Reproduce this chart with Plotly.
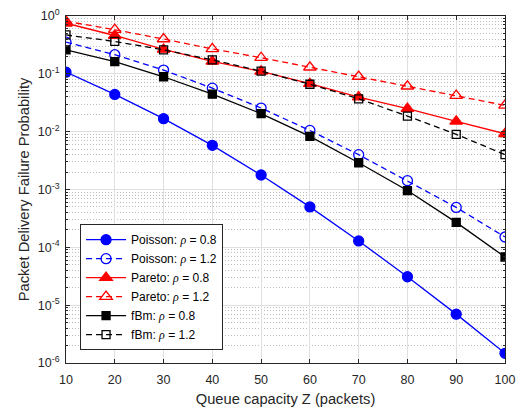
import plotly.graph_objects as go

# Queue capacity Z (packets)
capacity = [10, 20, 30, 40, 50, 60, 70, 80, 90, 100]

# Packet delivery failure probability per traffic model and load
poisson_08 = [0.107, 0.044, 0.0168, 0.0058, 0.00178, 5.0e-4, 1.29e-4, 3.1e-5, 7.0e-6, 1.47e-6]
poisson_12 = [0.353, 0.214, 0.116, 0.0566, 0.0256, 0.0105, 0.0040, 0.00142, 4.9e-4, 1.51e-4]
pareto_08 = [0.75, 0.46, 0.264, 0.164, 0.110, 0.0675, 0.0397, 0.025, 0.0151, 0.0092]
pareto_12 = [0.81, 0.58, 0.40, 0.27, 0.19, 0.13, 0.090, 0.061, 0.042, 0.0285]
fbm_08 = [0.26, 0.162, 0.089, 0.0445, 0.0205, 0.0083, 0.0029, 9.6e-4, 2.7e-4, 6.8e-5]
fbm_12 = [0.47, 0.363, 0.26, 0.175, 0.111, 0.066, 0.037, 0.0186, 0.009, 0.0040]

x_ticks = [10, 20, 30, 40, 50, 60, 70, 80, 90, 100]
y_ticks = [1e-6, 1e-5, 1e-4, 1e-3, 1e-2, 1e-1, 1e0]
y_ticktext = ["10<sup>-6</sup>", "10<sup>-5</sup>", "10<sup>-4</sup>", "10<sup>-3</sup>",
              "10<sup>-2</sup>", "10<sup>-1</sup>", "10<sup>0</sup>"]
y_minor = [m * 10.0 ** e for e in range(-6, 0) for m in range(2, 10)]

RHO = "<span style='font-family:\"Liberation Serif\", serif; font-style:italic'>ρ</span>"
DASH = "6px,4px"

series = [
    ("Poisson", "0.8", poisson_08, "#0000ff", "solid", "circle", 10),
    ("Poisson", "1.2", poisson_12, "#0000ff", DASH, "circle-open", 10),
    ("Pareto", "0.8", pareto_08, "#ff0000", "solid", "triangle-up", 11),
    ("Pareto", "1.2", pareto_12, "#ff0000", DASH, "triangle-up-open", 11),
    ("fBm", "0.8", fbm_08, "#000000", "solid", "square", 8),
    ("fBm", "1.2", fbm_12, "#000000", DASH, "square-open", 8),
]

fig = go.Figure()
for model, rho, vals, color, dash, symbol, size in series:
    fig.add_trace(go.Scatter(
        x=capacity, y=vals, mode="lines+markers",
        name=f"{model}: {RHO} = {rho}",
        line=dict(color=color, width=1.3, dash=dash),
        marker=dict(symbol=symbol, size=size, color=color,
                    line=dict(color=color, width=1.3)),
    ))

axis_color = "#262626"
fig.update_layout(
    width=519, height=410,
    margin=dict(l=66, r=14, t=16, b=47),
    paper_bgcolor="white", plot_bgcolor="white",
    font=dict(family="Liberation Sans, Arial, sans-serif", size=12.5, color=axis_color),
    showlegend=True,
    legend=dict(
        x=0.032, y=0.037, xanchor="left", yanchor="bottom",
        bgcolor="white", bordercolor=axis_color, borderwidth=1,
        font=dict(size=12, color="#000000"),
        itemwidth=40, tracegroupgap=0,
    ),
    xaxis=dict(
        range=[10, 100], tickmode="array", tickvals=x_ticks, automargin=False,
        ticks="inside", ticklen=4, tickcolor=axis_color,
        showline=True, linecolor=axis_color, linewidth=1, mirror="allticks",
        showgrid=True, gridcolor="#dfdfdf", gridwidth=1, zeroline=False,
        ticklabelstandoff=5,
        title=dict(text="Queue capacity Z (packets)", font=dict(size=14.7), standoff=7),
        tickfont=dict(size=12.5),
    ),
    yaxis=dict(
        type="log", range=[-6, 0], tickmode="array", tickvals=y_ticks, ticktext=y_ticktext,
        automargin=False,
        ticks="inside", ticklen=4, tickcolor=axis_color,
        showline=True, linecolor=axis_color, linewidth=1, mirror="allticks",
        showgrid=True, gridcolor="#dfdfdf", gridwidth=1, zeroline=False,
        ticklabelstandoff=3,
        minor=dict(tickmode="array", tickvals=y_minor, ticks="inside", ticklen=2,
                   tickcolor=axis_color, showgrid=True, gridcolor="#bdbdbd",
                   griddash="1px,2px", gridwidth=1),
        title=dict(text="Packet Delivery Failure Probability", font=dict(size=14.7), standoff=4),
        tickfont=dict(size=12.5),
    ),
)

fig.write_html("out.html")
